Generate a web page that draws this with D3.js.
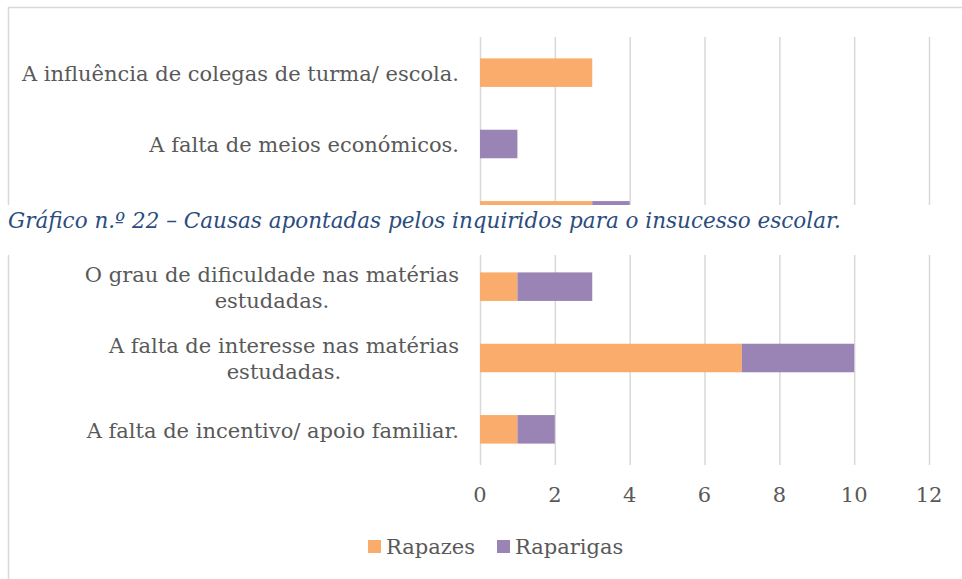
<!DOCTYPE html>
<html><head><meta charset="utf-8">
<script src="https://cdn.jsdelivr.net/npm/d3@7"></script>
<style>
body{margin:0;background:#fff;}
svg{display:block;}
</style></head>
<body>
<svg id="c" width="962" height="579"></svg>
<script>
const categories = [
  "A influência de colegas de turma/ escola.",
  "A falta de meios económicos.",
  "(oculta)",
  "O grau de dificuldade nas matérias|estudadas.",
  "A falta de interesse nas matérias|estudadas.",
  "A falta de incentivo/ apoio familiar."
];
const rapazes   = [3, 0, 3, 1, 7, 1];
const raparigas = [0, 1, 1, 2, 3, 1];
const seriesNames = ["Rapazes", "Raparigas"];
const tickValues = [0, 2, 4, 6, 8, 10, 12];
const caption = "Gráfico n.º 22 – Causas apontadas pelos inquiridos para o insucesso escolar.";

const colors = ["#F9AC6B", "#9A84B6"];
const textColor = "#595959";
const font = "Georgia, 'DejaVu Serif', serif";

const svg = d3.select("#c");
const x = d3.scaleLinear().domain([0, 12]).range([480, 929]);
const y = d3.scaleBand().domain(categories).range([37, 465]).paddingInner(0.6).paddingOuter(0.3);

// frame
svg.append("path").attr("d", "M8.5,580 V7.5 H962").attr("fill", "none").attr("stroke", "#d9d9d9").attr("stroke-width", 1.5);

// gridlines
svg.append("g").selectAll("line").data(tickValues).join("line")
  .attr("x1", d => x(d) + 0.5).attr("x2", d => x(d) + 0.5)
  .attr("y1", 37).attr("y2", 465)
  .attr("stroke", "#d9d9d9").attr("stroke-width", 1.5);

// bars
const data = categories.map((c, i) => ({c, v: [rapazes[i], raparigas[i]]}));
const stack = d3.stack().keys([0, 1]).value((d, k) => d.v[k]);
const stacked = stack(data);
svg.append("g").selectAll("g").data(stacked).join("g")
  .attr("fill", (d, i) => colors[i])
  .selectAll("rect").data(d => d).join("rect")
  .attr("x", d => x(d[0])).attr("width", d => x(d[1]) - x(d[0]))
  .attr("y", d => y(d.data.c)).attr("height", y.bandwidth());

// category labels
const lab = svg.append("g").attr("font-family", font).attr("font-size", 21).attr("fill", textColor);
categories.forEach((c, i) => {
  if (i === 2) return;
  const lines = c.split("|");
  const g = lab.append("g");
  const cy = y(c) + y.bandwidth() / 2;
  const lh = 26;
  const ts = lines.map((l, j) => g.append("text").text(l)
    .attr("y", cy + (j - (lines.length - 1) / 2) * lh + 1).attr("dy", "0.35em"));
  const w = d3.max(ts, t => t.node().getComputedTextLength());
  ts.forEach(t => t.attr("x", 459 - w / 2).attr("text-anchor", "middle"));
});

// x tick labels
svg.append("g").attr("font-family", font).attr("font-size", 21).attr("fill", textColor)
  .selectAll("text").data(tickValues).join("text")
  .attr("x", d => x(d)).attr("y", 502).attr("text-anchor", "middle").text(d => d);

// legend
const lg = svg.append("g").attr("font-family", font).attr("font-size", 21).attr("fill", textColor);
const legX = [368, 497];
seriesNames.forEach((s, i) => {
  lg.append("rect").attr("x", legX[i]).attr("y", 540).attr("width", 13).attr("height", 13).attr("fill", colors[i]);
  lg.append("text").attr("x", legX[i] + 18).attr("y", 554).text(s);
});

// caption overlay
svg.append("rect").attr("x", 0).attr("y", 205).attr("width", 962).attr("height", 50).attr("fill", "#fff");
svg.append("text").attr("x", 8).attr("y", 228).attr("font-family", font).attr("font-style", "italic")
  .attr("font-size", 21.5).attr("fill", "#2B4C7E").text(caption);
</script>
</body></html>
